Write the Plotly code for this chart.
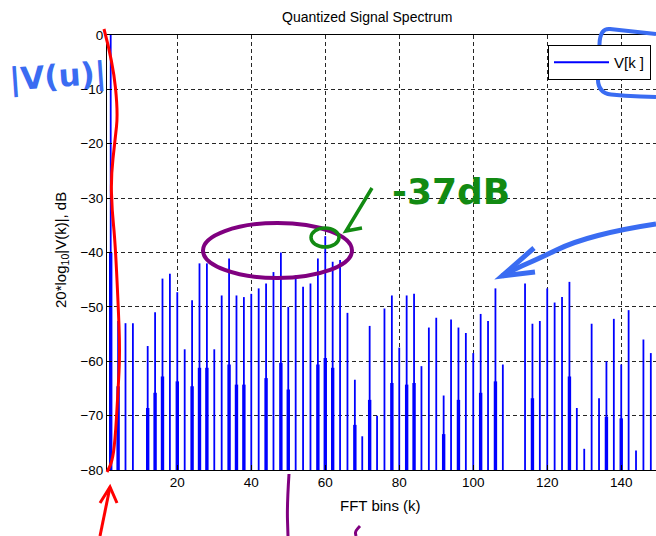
import plotly.graph_objects as go

# FFT bins shown (even bins only carry energy)
bins = list(range(2, 150, 2))

# Peak magnitude of each bin, dB (None = below the -80 dB floor)
peak_db = [
    0.0, -52.6, -53.0, -53.0, None, -57.2, -51.0, -44.8, -43.9, -47.3,
    -57.8, -48.8, -42.0, -42.0, -57.8, -47.9, -41.1, -47.9, -48.2, -47.6,
    -46.6, -45.7, -43.6, -40.0, -50.0, -44.2, -46.3, -45.7, -41.1, -37.0,
    -41.7, -41.4, -51.1, -63.4, -73.8, -53.5, -70.0, -50.3, -47.9, -57.5,
    -47.9, -47.6, -60.9, -53.8, -52.0, -66.3, -52.3, -53.8, -54.8, -58.5,
    -51.3, -52.6, -46.6, -60.6, None, None, -45.7, -53.1, -52.6, -46.6,
    -49.2, -48.2, -45.4, -68.6, -76.1, -53.1, -66.8, -60.0, -52.2, -60.6,
    -50.6, -76.4, -56.0, -58.5,
]

# Second (lower) component overlapping some of the stems, dB
inner_bins = [2, 4, 12, 14, 16, 20, 24, 26, 28, 34, 36, 38, 44, 48, 50, 58,
              60, 62, 68, 72, 78, 82, 84, 92, 96, 102, 106, 116, 126, 136, 140]
inner_db = [-40.0, -64.6, -68.6, -65.8, -62.8, -63.7, -64.6, -61.2, -61.2,
            -60.6, -64.3, -64.3, -63.1, -60.3, -65.2, -60.6, -59.4, -61.2,
            -71.7, -67.1, -64.0, -64.3, -64.0, -73.4, -67.1, -65.8, -63.7,
            -66.8, -62.8, -70.2, -70.5]

y_floor = -80
y_ticks = [0, -10, -20, -30, -40, -50, -60, -70, -80]
x_ticks = [20, 40, 60, 80, 100, 120, 140]


def stems(xv, yv):
    xs, ys = [], []
    for k, v in zip(xv, yv):
        if v is None:
            continue
        xs += [k, k, None]
        ys += [y_floor, v, None]
    return xs, ys


BLUE = "#0000ff"
fig = go.Figure()
sx, sy = stems(bins, peak_db)
fig.add_trace(go.Scatter(x=sx, y=sy, mode="lines", name="V[k ]",
                         line=dict(color=BLUE, width=1.8)))
ix, iy = stems(inner_bins, inner_db)
fig.add_trace(go.Scatter(x=ix, y=iy, mode="lines", showlegend=False,
                         line=dict(color=BLUE, width=3.4)))

# page geometry (px)
W, H = 656, 536
L, R, T, B = 107, 656, 35, 470


def px(x):
    return (x - L) / (R - L)


def py(y):
    return (B - y) / (B - T)


def smooth_path(pts):
    p = [(px(x), py(y)) for x, y in pts]
    d = f"M{p[0][0]:.5f},{p[0][1]:.5f}"
    for i in range(1, len(p) - 1):
        mx = (p[i][0] + p[i + 1][0]) / 2
        my = (p[i][1] + p[i + 1][1]) / 2
        d += f" Q{p[i][0]:.5f},{p[i][1]:.5f} {mx:.5f},{my:.5f}"
    d += f" L{p[-1][0]:.5f},{p[-1][1]:.5f}"
    return d


def poly_path(pts):
    p = [(px(x), py(y)) for x, y in pts]
    return "M" + " L".join(f"{a:.5f},{b:.5f}" for a, b in p)


RED = "#ff0000"
PURPLE = "#800080"
GREEN = "#128a12"
PEN_BLUE = "#3a6cf2"

shapes = []


def pen(path, color, width):
    shapes.append(dict(type="path", xref="paper", yref="paper", path=path,
                       line=dict(color=color, width=width), layer="above"))


# red stroke along the y axis and arrow under it
pen(smooth_path([(104, 29), (113, 63), (118, 113), (115, 140), (111, 177),
                 (112, 210), (115, 240), (118, 300), (120, 352), (118, 392),
                 (115, 442), (112, 462), (107, 472)]), RED, 3)
pen(poly_path([(100, 536), (110, 487)]), RED, 3)
pen(poly_path([(100, 503), (110, 487), (117, 503)]), RED, 3)

# purple ellipse round the tallest spurs, purple marks below the axis
shapes.append(dict(type="circle", xref="paper", yref="paper",
                   x0=px(203), x1=px(352), y0=py(278), y1=py(223),
                   line=dict(color=PURPLE, width=4), layer="above"))
pen(smooth_path([(289, 474), (287, 505), (288, 536)]), PURPLE, 3)
pen(smooth_path([(360, 526), (355, 531), (356, 536)]), PURPLE, 3)

# green marker on the -37 dB spur
shapes.append(dict(type="circle", xref="paper", yref="paper",
                   x0=px(311), x1=px(339), y0=py(247), y1=py(228),
                   line=dict(color=GREEN, width=3.5), layer="above"))
pen(poly_path([(372, 188), (346, 231), (362, 228)]), GREEN, 3.5)

# blue box round the legend and blue arrow on the right
pen(smooth_path([(656, 34), (620, 30), (600, 28), (599, 60), (597, 93),
                 (625, 96), (656, 97)]), PEN_BLUE, 4)
pen(smooth_path([(656, 224), (623, 229), (573, 242), (540, 258),
                 (517, 268), (502, 276)]), PEN_BLUE, 5)
pen(poly_path([(534, 248), (502, 276), (535, 272)]), PEN_BLUE, 5)

FONT = "Arial, Liberation Sans, sans-serif"


def note(text, x, y, size, color="#000", angle=0, family=FONT, weight=None):
    f = dict(family=family, size=size, color=color)
    if weight:
        f["weight"] = weight
    return dict(text=text, x=px(x), y=py(y), xref="paper", yref="paper",
                xanchor="center", yanchor="middle", showarrow=False,
                textangle=angle, font=f)


annotations = [
    note("Quantized Signal Spectrum", 367, 17, 14),
    note("FFT bins (k)", 380, 505, 15),
    note("20*log<sub>10</sub>|V(k)|, dB", 62, 250, 15, angle=-90),
    note("|V(u)|", 57, 76, 31, color=PEN_BLUE, angle=-4,
         family="DejaVu Sans", weight="bold"),
    note("-37dB", 451, 191, 36, color=GREEN, family="DejaVu Sans",
         weight="bold"),
]

grid = dict(showgrid=True, gridcolor="#262626", gridwidth=1,
            griddash="4px,3px", showline=True, linecolor="#000",
            linewidth=1, mirror=True, ticks="inside", ticklen=5,
            tickcolor="#000", zeroline=False,
            tickfont=dict(family=FONT, size=13.5, color="#000"))

fig.update_layout(
    width=W, height=H,
    margin=dict(l=L, r=W - R, t=T, b=H - B, pad=0),
    paper_bgcolor="#fff", plot_bgcolor="#fff",
    xaxis=dict(range=[1, 149.4], tickvals=x_ticks, **grid),
    yaxis=dict(range=[y_floor, 0], tickvals=y_ticks, **grid),
    showlegend=True,
    legend=dict(x=px(651), y=py(45), xanchor="right", yanchor="top",
                bgcolor="#fff", bordercolor="#000", borderwidth=1,
                itemwidth=55,
                font=dict(family=FONT, size=15, color="#000")),
    shapes=shapes,
    annotations=annotations,
)

fig.write_html("out.html")
